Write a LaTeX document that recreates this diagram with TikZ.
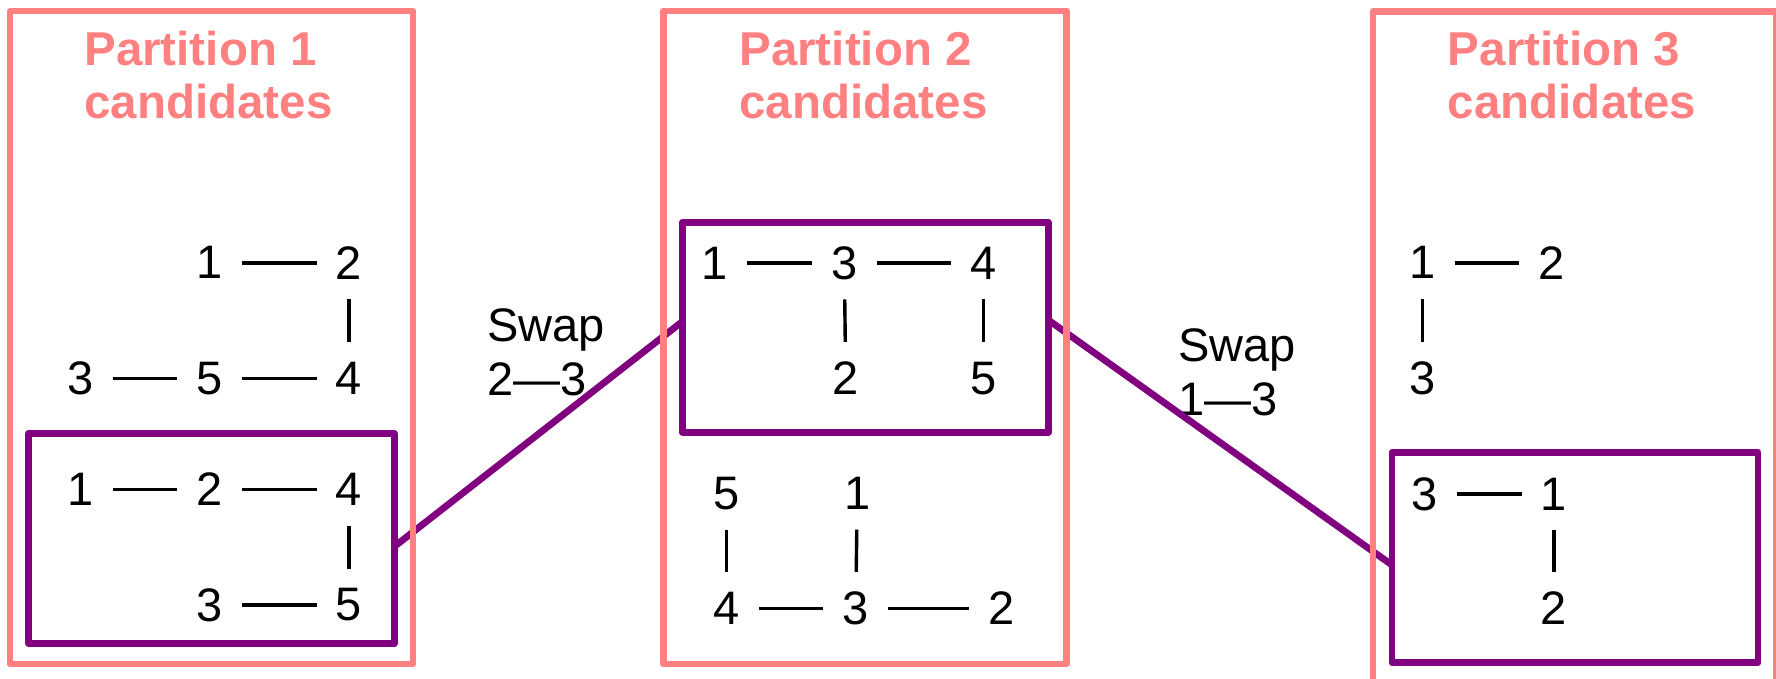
\documentclass[tikz,border=0pt]{standalone}
\usepackage{fontspec}
\setmainfont{Liberation Sans}
\usetikzlibrary{backgrounds}
\definecolor{pinkc}{HTML}{FF8080}
\definecolor{purp}{HTML}{800080}
\begin{document}
\begin{tikzpicture}[x=0.5pt,y=-0.5pt,
  v/.style={inner sep=0pt, minimum width=32pt, minimum height=36pt, font=\fontsize{23.5}{26.5}\selectfont},
  e/.style={line width=1.7pt, black},
  pbox/.style={draw=pinkc, line width=3.4pt, line join=round, inner sep=0pt, outer sep=0pt, minimum width=201.5pt, minimum height=326.5pt},
  ubox/.style={draw=purp, line width=3.4pt, line join=round, inner sep=0pt, outer sep=0pt, minimum width=183pt, minimum height=105pt},
  conn/.style={draw=purp, line width=3.4pt},
  ttl/.style={text=pinkc, font=\fontsize{23.75}{26.5}\selectfont\bfseries, align=left, inner sep=0pt, anchor=north west},
  swaplbl/.style={font=\fontsize{23.5}{27}\selectfont, align=left, inner sep=0pt, anchor=north west}
]
\useasboundingbox (0,0) rectangle (1776,679);
\clip (0,0) rectangle (1776,679);

% partition boxes
\node[pbox] (P1) at (211.5,337.5) {};
\node[pbox] (P2) at (865,337.5) {};
\node[pbox, minimum height=350pt] (P3) at (1574.4,361.7) {};

% titles
\node[ttl] (t1) at (84,30.7) {Partition 1\\candidates};
\node[ttl] (t2) at (739,30.7) {Partition 2\\candidates};
\node[ttl] (t3) at (1447.5,30.7) {Partition 3\\candidates};

% selected boxes
\node[ubox] (B1) at (211.3,538.6) {};
\node[ubox] (B2) at (865.3,327.3) {};
\node[ubox] (B3) at (1575,557.6) {};

% partition 1 graphs
\node[v] (a1) at (209.5,262.8) {1};
\node[v] (a2) at (348.9,262.8) {2};
\node[v] (a3) at (80.4,378.3) {3};
\node[v] (a5) at (209.5,378.3) {5};
\node[v] (a4) at (348.9,378.3) {4};
\draw[e] (a1) -- (a2); \draw[e] (a2) -- (a4);
\draw[e] (a3) -- (a5); \draw[e] (a5) -- (a4);

\node[v] (b1) at (80.4,489.3) {1};
\node[v] (b2) at (209.5,489.3) {2};
\node[v] (b4) at (348.9,489.3) {4};
\node[v] (b3) at (209.5,604.9) {3};
\node[v] (b5) at (348.9,604.9) {5};
\draw[e] (b1) -- (b2); \draw[e] (b2) -- (b4);
\draw[e] (b4) -- (b5); \draw[e] (b3) -- (b5);

% partition 2 graphs
\node[v] (c1) at (715,263) {1};
\node[v] (c3) at (844.3,263) {3};
\node[v] (c4) at (983.3,263) {4};
\node[v] (c2) at (845.7,378.3) {2};
\node[v] (c5) at (983.3,378.3) {5};
\draw[e] (c1) -- (c3); \draw[e] (c3) -- (c4);
\draw[e] (c3) -- (c2); \draw[e] (c4) -- (c5);

\node[v] (d5) at (726.7,493.3) {5};
\node[v] (d1) at (857.3,493.3) {1};
\node[v] (d4) at (726.7,608.3) {4};
\node[v] (d3) at (855.7,608.3) {3};
\node[v] (d2) at (1001.7,608.3) {2};
\draw[e] (d5) -- (d4); \draw[e] (d1) -- (d3);
\draw[e] (d4) -- (d3); \draw[e] (d3) -- (d2);

% partition 3 graphs
\node[v] (g1) at (1422.5,262.8) {1};
\node[v] (g2) at (1551.8,262.8) {2};
\node[v] (g3) at (1422.5,378.3) {3};
\draw[e] (g1) -- (g2); \draw[e] (g1) -- (g3);

\node[v] (f3) at (1425,493.9) {3};
\node[v] (f1) at (1554,493.9) {1};
\node[v] (f2) at (1554,608.3) {2};
\draw[e] (f3) -- (f1); \draw[e] (f1) -- (f2);

\begin{scope}[on background layer]
\node[swaplbl] (s1) at (487,308) {Swap\\2—3};
\node[swaplbl] (s2) at (1178,328) {Swap\\1—3};
\draw[conn] ([yshift=-4pt]B1.east) -- ([yshift=2.85pt]B2.west);
\draw[conn] ([yshift=3.65pt]B2.east) -- ([yshift=-3.7pt]B3.west);
\end{scope}
\end{tikzpicture}
\end{document}
